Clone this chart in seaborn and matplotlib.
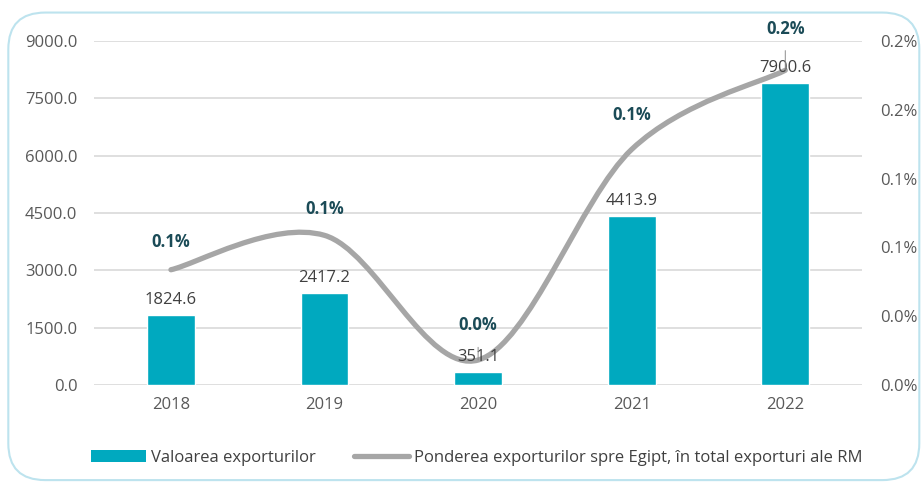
import matplotlib
matplotlib.use("Agg")
import matplotlib.pyplot as plt
from matplotlib.path import Path
from matplotlib.patches import PathPatch, FancyBboxPatch, Patch
from matplotlib.lines import Line2D
from matplotlib.ticker import FuncFormatter
import seaborn as sns
import pandas as pd

years = ["2018", "2019", "2020", "2021", "2022"]
export_values = [1824.6, 2417.2, 351.1, 4413.9, 7900.6]
export_share = [0.067, 0.087, 0.0145, 0.137, 0.183]  # % of total RM exports

bar_color = "#00A9BF"
line_color = "#A6A6A6"
pct_color = "#1B4B57"
fs = 12

sns.set_theme(style="white")
plt.rcParams["font.family"] = ["Open Sans", "DejaVu Sans"]

df = pd.DataFrame({"an": years, "valoare": export_values})

fig = plt.figure(figsize=(9.23, 4.83), dpi=100)
ax = fig.add_axes([0.102, 0.203, 0.832, 0.712])

sns.barplot(data=df, x="an", y="valoare", color=bar_color, width=0.31,
            saturation=1, ax=ax, zorder=2)
ax.set_ylim(0, 9000)
ax.set_yticks(range(0, 9001, 1500))
ax.yaxis.set_major_formatter(FuncFormatter(lambda v, _: f"{v:.1f}"))
ax.set_xlabel("")
ax.set_ylabel("")
ax.grid(axis="y", color="#D9D9D9", lw=1.2, zorder=0)
ax.set_axisbelow(True)
for s in ax.spines.values():
    s.set_visible(False)
ax.tick_params(axis="both", length=0, labelsize=fs, colors="#595959")
ax.tick_params(axis="y", pad=12)
ax.tick_params(axis="x", pad=9)

# secondary axis with smoothed share line
ax2 = ax.twinx()
ax2.set_ylim(0, 0.2)
ax2.set_yticks([0, 0.04, 0.08, 0.12, 0.16, 0.20])
ax2.yaxis.set_major_formatter(FuncFormatter(lambda v, _: f"{v:.1f}%"))
ax2.tick_params(axis="y", length=0, labelsize=fs, colors="#595959", pad=13)
for s in ax2.spines.values():
    s.set_visible(False)

# smooth curve (cubic bezier, catmull-rom style control points)
pts = list(zip(range(len(years)), export_share))
verts = [pts[0]]
codes = [Path.MOVETO]
n = len(pts)
for i in range(n - 1):
    p0 = pts[i - 1] if i > 0 else pts[i]
    p1 = pts[i]
    p2 = pts[i + 1]
    p3 = pts[i + 2] if i + 2 < n else pts[i + 1]
    c1 = (p1[0] + (p2[0] - p0[0]) / 6, p1[1] + (p2[1] - p0[1]) / 6)
    c2 = (p2[0] - (p3[0] - p1[0]) / 6, p2[1] - (p3[1] - p1[1]) / 6)
    verts += [c1, c2, p2]
    codes += [Path.CURVE4] * 3
ax2.add_patch(PathPatch(Path(verts, codes), fill=False, edgecolor=line_color,
                        lw=3.8, capstyle="round", zorder=3))

# bar value labels drawn on ax2 so they sit above the line
for bar, val in zip(ax.containers[0], export_values):
    ax2.annotate(f"{val:.1f}", (bar.get_x() + bar.get_width() / 2, val),
                 xycoords=ax.transData, xytext=(0, 5),
                 textcoords="offset points", ha="center", va="bottom",
                 fontsize=fs, color="#404040", zorder=5)

offsets = [20, 19, 25, 25, 30]
leader = [False, False, True, False, True]
for i, v in enumerate(export_share):
    ax2.annotate(f"{v:.1f}%", (i, v), xytext=(0, offsets[i]),
                 textcoords="offset points", ha="center", va="center",
                 fontsize=fs, fontweight="bold", color=pct_color, zorder=5,
                 arrowprops=dict(arrowstyle="-", color="#8C8C8C", lw=0.7,
                                 shrinkA=7, shrinkB=0) if leader[i] else None)

handles = [Patch(facecolor=bar_color, edgecolor="none"),
           Line2D([0], [0], color=line_color, lw=3.8, solid_capstyle="round")]
labels = ["Valoarea exporturilor",
          "Ponderea exporturilor spre Egipt, în total exporturi ale RM"]
fig.legend(handles, labels, loc="center", bbox_to_anchor=(0.517, 0.052),
           ncol=2, frameon=False, fontsize=fs, handlelength=3.3,
           handletextpad=0.3, columnspacing=2.3, labelcolor="#404040")

fig.patches.append(FancyBboxPatch((0.009, 0.006), 0.987, 0.968,
                                  boxstyle="round,pad=0,rounding_size=0.04",
                                  transform=fig.transFigure, fill=False,
                                  edgecolor="#BDE3EE", lw=1.5,
                                  mutation_aspect=1.9))

fig.savefig("out.png", dpi=100)
